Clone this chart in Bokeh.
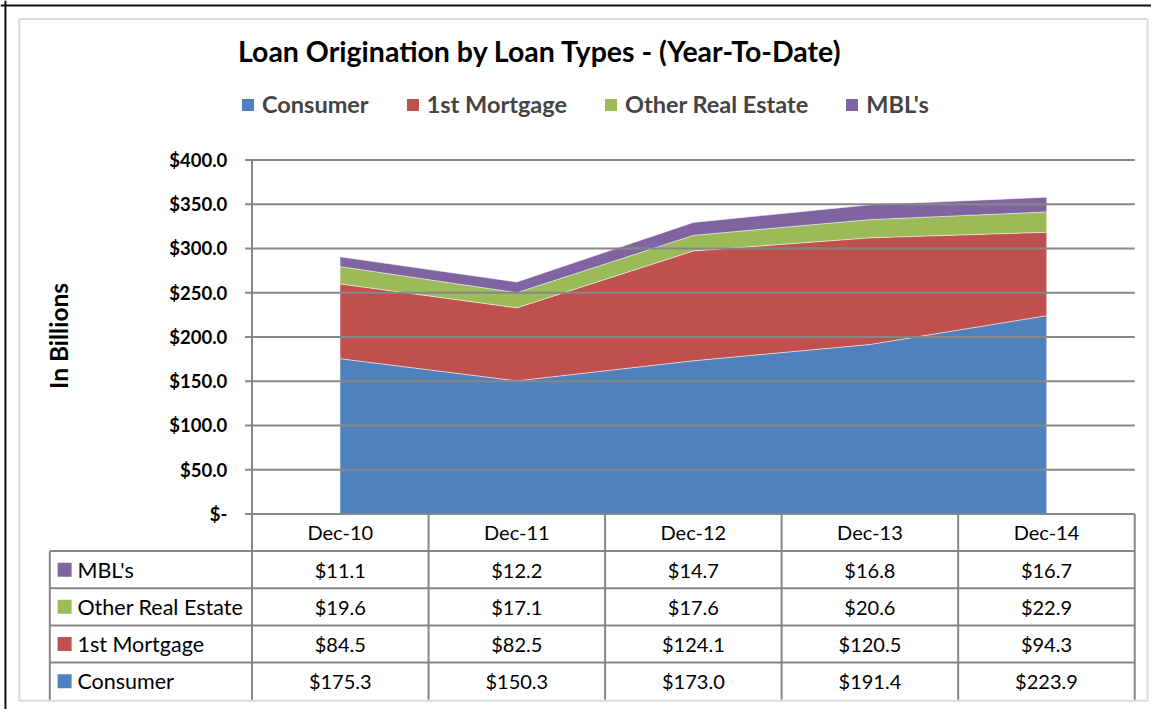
import math
from bokeh.plotting import figure
from bokeh.models import Range1d, Legend, LegendItem, ColumnDataSource
from bokeh.core.properties import value
from bokeh.embed import file_html
from bokeh.resources import INLINE

# ---------------- data ----------------
categories = ["Dec-10", "Dec-11", "Dec-12", "Dec-13", "Dec-14"]
series_names = ["Consumer", "1st Mortgage", "Other Real Estate", "MBL's"]
consumer = [175.3, 150.3, 173.0, 191.4, 223.9]
first_mortgage = [84.5, 82.5, 124.1, 120.5, 94.3]
other_real_estate = [19.6, 17.1, 17.6, 20.6, 22.9]
mbls = [11.1, 12.2, 14.7, 16.8, 16.7]
series_colors = ["#4F81BD", "#C0504D", "#9BBB59", "#8064A2"]
y_ticks = [0, 50, 100, 150, 200, 250, 300, 350, 400]
y_tick_labels = ["$-", "$50.0", "$100.0", "$150.0", "$200.0", "$250.0",
                 "$300.0", "$350.0", "$400.0"]
title_text = "Loan Origination by Loan Types - (Year-To-Date)"
y_label = "In Billions"

FONT = value("Lato")
GRID = "#878787"

# ---------------- geometry (layout in a 1167x725 design space) ----------------
W, H = 1151, 709              # canvas size
DW, DH = 1167.0, 725.0        # design space size (scaled onto canvas)
CAT0_PX, CAT_W = 344.5, 179.0
ZERO_PX, PX_PER_UNIT = 525.0, 362.0 / 400.0
ROW_H = 38.0
LEFT_TABLE_PX = 50.0

def xpx_to_data(px):
    return (px - CAT0_PX) / CAT_W

x_range = Range1d(xpx_to_data(0), xpx_to_data(DW))
y_range = Range1d((ZERO_PX - DH) / PX_PER_UNIT, ZERO_PX / PX_PER_UNIT)

p = figure(width=W, height=H, x_range=x_range, y_range=y_range,
           x_axis_type=None, y_axis_type=None, toolbar_location=None,
           output_backend="svg", min_border=0)
p.outline_line_color = None
p.background_fill_color = "white"
p.border_fill_color = "white"
p.grid.visible = False
p.extra_x_ranges = {"px": Range1d(0, DW)}
p.extra_y_ranges = {"px": Range1d(DH, 0),
                    "tbl": Range1d((DH - ZERO_PX) / ROW_H, -ZERO_PX / ROW_H)}

# frame decorations
p.segment(x0=[19, 19, 19, 1163], y0=[19, 19, 716, 19], x1=[1163, 19, 1163, 1163], y1=[19, 716, 716, 716],
          x_range_name="px", y_range_name="px", line_color="#dcdcdc", line_width=2)
p.segment(x0=[0, 5], y0=[5, 0], x1=[DW, 5], y1=[5, DH],
          x_range_name="px", y_range_name="px", line_color="#111111", line_width=2)

# ---------------- stacked areas ----------------
xs = list(range(len(categories)))
values = [consumer, first_mortgage, other_real_estate, mbls]
src = ColumnDataSource({"x": xs, **{n: v for n, v in zip(series_names, values)}})
renderers = p.varea_stack(stackers=series_names, x="x", color=series_colors, source=src)

cum = [0.0] * len(xs)
for v in values:
    cum = [a + b for a, b in zip(cum, v)]
    p.line(xs, list(cum), line_color="white", line_width=1, line_alpha=0.6)

# ---------------- gridlines & y ticks ----------------
x_left_tick = xpx_to_data(248)
x_right = len(categories) - 0.5
p.segment(x0=[x_left_tick] * len(y_ticks), y0=y_ticks,
          x1=[x_right] * len(y_ticks), y1=y_ticks, line_color=GRID, line_width=2)
p.segment(x0=[-0.5], y0=[0], x1=[-0.5], y1=[max(y_ticks)], line_color=GRID, line_width=2)
p.text(x=[230] * len(y_ticks), y=y_ticks, text=y_tick_labels, x_range_name="px",
       text_font=FONT, text_font_size=value("18.5px"), text_font_style="bold",
       text_align="right", text_baseline="middle", text_color="#000000")

p.text(x=[59], y=[343], text=[y_label], x_range_name="px", y_range_name="px",
       angle=math.pi / 2, text_font=FONT, text_font_size=value("24.5px"),
       text_font_style="bold", text_align="center", text_baseline="middle")

p.text(x=[547], y=[52], text=[title_text], x_range_name="px", y_range_name="px",
       text_font=FONT, text_font_size=value("28.5px"), text_font_style="bold",
       text_align="center", text_baseline="middle")

# ---------------- legend ----------------
items = [LegendItem(label=n, renderers=[r]) for n, r in zip(series_names, renderers)]
legend = Legend(items=items, orientation="horizontal", location=(240, 591),
                label_text_font="Lato", label_text_font_size="23.5px",
                label_text_font_style="bold", glyph_width=15, glyph_height=15,
                label_height=20, label_standoff=7, spacing=36, padding=0, margin=0,
                border_line_color=None, background_fill_alpha=0)
p.add_layout(legend)

# ---------------- data table ----------------
n_rows = len(series_names) + 1
x_left_tbl = xpx_to_data(LEFT_TABLE_PX)
p.segment(x0=[x_left_tbl] * len(series_names), y0=list(range(1, n_rows + 1)),
          x1=[x_right] * len(series_names), y1=list(range(1, n_rows + 1)),
          y_range_name="tbl", line_color=GRID, line_width=2)
vx = [i - 0.5 for i in range(len(categories) + 1)]
p.segment(x0=vx, y0=[0] * len(vx), x1=vx, y1=[n_rows] * len(vx),
          y_range_name="tbl", line_color=GRID, line_width=2)
p.segment(x0=[x_left_tbl], y0=[1], x1=[x_left_tbl], y1=[n_rows],
          y_range_name="tbl", line_color=GRID, line_width=2)
p.text(x=xs, y=[0.5] * len(xs), text=categories, y_range_name="tbl",
       text_font=FONT, text_font_size=value("20px"), text_align="center",
       text_baseline="middle", text_color="#000000")
for r_i, s_i in enumerate(reversed(range(len(series_names)))):
    t = r_i + 1.5
    p.text(x=xs, y=[t] * len(xs), text=[f"${v:.1f}" for v in values[s_i]],
           y_range_name="tbl", text_font=FONT, text_font_size=value("20px"),
           text_align="center", text_baseline="middle", text_color="#000000")
    p.scatter(x=[65], y=[t], x_range_name="px", y_range_name="tbl", marker="square",
              size=14, fill_color=series_colors[s_i], line_color=None)
    p.text(x=[78], y=[t], text=[series_names[s_i]], x_range_name="px", y_range_name="tbl",
           text_font=FONT, text_font_size=value("21.5px"), text_align="left",
           text_baseline="middle", text_color="#000000")

open("out.html", "w").write(file_html(p, INLINE))
